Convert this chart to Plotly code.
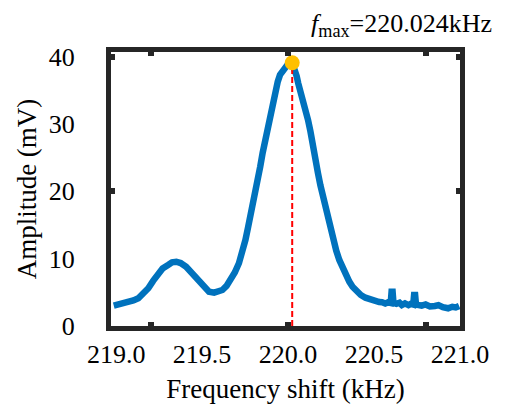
import plotly.graph_objects as go

# ---- data ----
freq = [218.986, 219.010, 219.030, 219.052, 219.075, 219.100, 219.129, 219.160, 219.187,
        219.215, 219.244, 219.270, 219.302, 219.325, 219.350, 219.375, 219.407, 219.430,
        219.455, 219.485, 219.512, 219.540, 219.570, 219.595, 219.618, 219.642, 219.666,
        219.690, 219.714, 219.733, 219.752, 219.766, 219.781, 219.796, 219.810, 219.824,
        219.838, 219.852, 219.867, 219.882, 219.896, 219.910, 219.925, 219.940, 219.953,
        219.968, 219.982, 220.000, 220.024, 220.040, 220.050, 220.059, 220.073, 220.087,
        220.101, 220.116, 220.130, 220.145, 220.160, 220.174, 220.188, 220.203, 220.217,
        220.231, 220.245, 220.260, 220.280, 220.298, 220.318, 220.337, 220.356, 220.375,
        220.400, 220.423, 220.450, 220.481, 220.510, 220.530, 220.547, 220.565, 220.580,
        220.597, 220.602, 220.608, 220.613, 220.630, 220.648, 220.662, 220.680, 220.700,
        220.715, 220.728, 220.733, 220.739, 220.744, 220.760, 220.777, 220.800, 220.825,
        220.854, 220.875, 220.900, 220.931, 220.955, 220.975, 220.995]
amp = [3.02, 3.15, 3.25, 3.37, 3.60, 3.80, 4.12, 4.75, 5.60,
       6.70, 7.83, 8.55, 9.06, 9.45, 9.55, 9.35, 8.81, 8.15,
       7.33, 6.40, 5.60, 5.10, 4.95, 5.05, 5.35, 5.95, 6.84,
       7.95, 9.32, 10.90, 12.78, 14.50, 16.24, 18.20, 20.21, 21.90,
       23.67, 25.70, 27.64, 29.40, 31.10, 33.20, 35.07, 36.30, 37.30,
       37.90, 38.53, 38.90, 39.10, 38.04, 37.10, 36.06, 34.90, 33.58,
       32.20, 30.61, 28.90, 27.15, 24.90, 22.69, 20.90, 19.21, 17.40,
       15.75, 14.20, 12.78, 11.20, 9.81, 8.60, 7.58, 6.60, 5.84,
       5.10, 4.61, 4.20, 3.86, 3.70, 3.55, 3.52, 3.35, 3.50,
       3.40, 5.10, 5.10, 3.45, 3.30, 3.45, 3.12, 3.35, 3.10,
       3.30, 3.20, 4.61, 4.61, 3.20, 3.05, 3.02, 3.20, 2.90,
       2.97, 3.10, 2.80, 2.63, 2.85, 2.75, 2.97]

fmax = 220.024
amp_max = 39.1
x_tickvals = [219.0, 219.5, 220.0, 220.5, 221.0]
x_ticktext = ["219.0", "219.5", "220.0", "220.5", "221.0"]
y_tickvals = [0, 10, 20, 30, 40]
x_range = [218.97, 221.0]
y_range = [0, 40.7]

BLUE = "#0072BD"
FRAME = "#262626"
FONT = "Times New Roman, Liberation Serif, serif"

fig = go.Figure()
fig.add_trace(go.Scatter(x=freq, y=amp, mode="lines",
                         line=dict(color=BLUE, width=6.5), hoverinfo="skip",
                         showlegend=False))
fig.add_trace(go.Scatter(x=[fmax, fmax], y=[y_range[0], amp_max], mode="lines",
                         line=dict(color="#FF0000", width=2, dash="6px,3px"),
                         showlegend=False))
fig.add_trace(go.Scatter(x=[fmax], y=[amp_max], mode="markers",
                         marker=dict(color="#FFC000", size=15),
                         showlegend=False))
# invisible trace to carry the tick-mark axes
fig.add_trace(go.Scatter(x=freq, y=amp, mode="lines", xaxis="x2", yaxis="y2",
                         line=dict(color="rgba(0,0,0,0)", width=0),
                         hoverinfo="skip", showlegend=False))

fig.update_layout(
    width=507, height=413,
    margin=dict(l=111, r=47, t=52, b=87),
    paper_bgcolor="white", plot_bgcolor="white",
    font=dict(family=FONT, size=26, color="#000000"),
    xaxis=dict(range=x_range, tickvals=x_tickvals, ticktext=x_ticktext,
               ticks="", showgrid=False, zeroline=False, automargin=False,
               showline=True, linewidth=5, linecolor=FRAME, mirror=True,
               ticklabelstandoff=1, tickfont=dict(family=FONT, size=26),
               title=dict(text="Frequency shift (kHz)",
                          font=dict(family=FONT, size=27), standoff=12)),
    yaxis=dict(range=y_range, tickvals=y_tickvals, ticks="",
               showgrid=False, zeroline=False, automargin=False,
               showline=True, linewidth=5, linecolor=FRAME, mirror=True,
               ticklabelstandoff=26, tickfont=dict(family=FONT, size=26),
               title=dict(text="Amplitude (mV)",
                          font=dict(family=FONT, size=27), standoff=6)),
    xaxis2=dict(range=x_range, overlaying="x", anchor="y2", side="bottom",
                tick0=219.2, dtick=0.8, ticks="inside", ticklen=4, tickwidth=6,
                tickcolor=FRAME, mirror="ticks", showticklabels=False,
                automargin=False, showgrid=False, zeroline=False, showline=False),
    yaxis2=dict(range=y_range, overlaying="y", anchor="x2", side="left",
                tickvals=[0, 20, 40], ticks="inside", ticklen=4, tickwidth=6,
                tickcolor=FRAME, mirror="ticks", showticklabels=False,
                automargin=False, showgrid=False, zeroline=False, showline=False),
    annotations=[dict(text=f"<i>f</i><sub>max</sub>={fmax:.3f}kHz",
                      xref="paper", yref="paper", x=0.831, y=1.099,
                      xanchor="center", yanchor="middle", showarrow=False,
                      font=dict(family=FONT, size=26, color="#000000"))],
)

fig.write_html("out.html", config={"displayModeBar": False},
               post_script="document.body.style.margin='0px';")
